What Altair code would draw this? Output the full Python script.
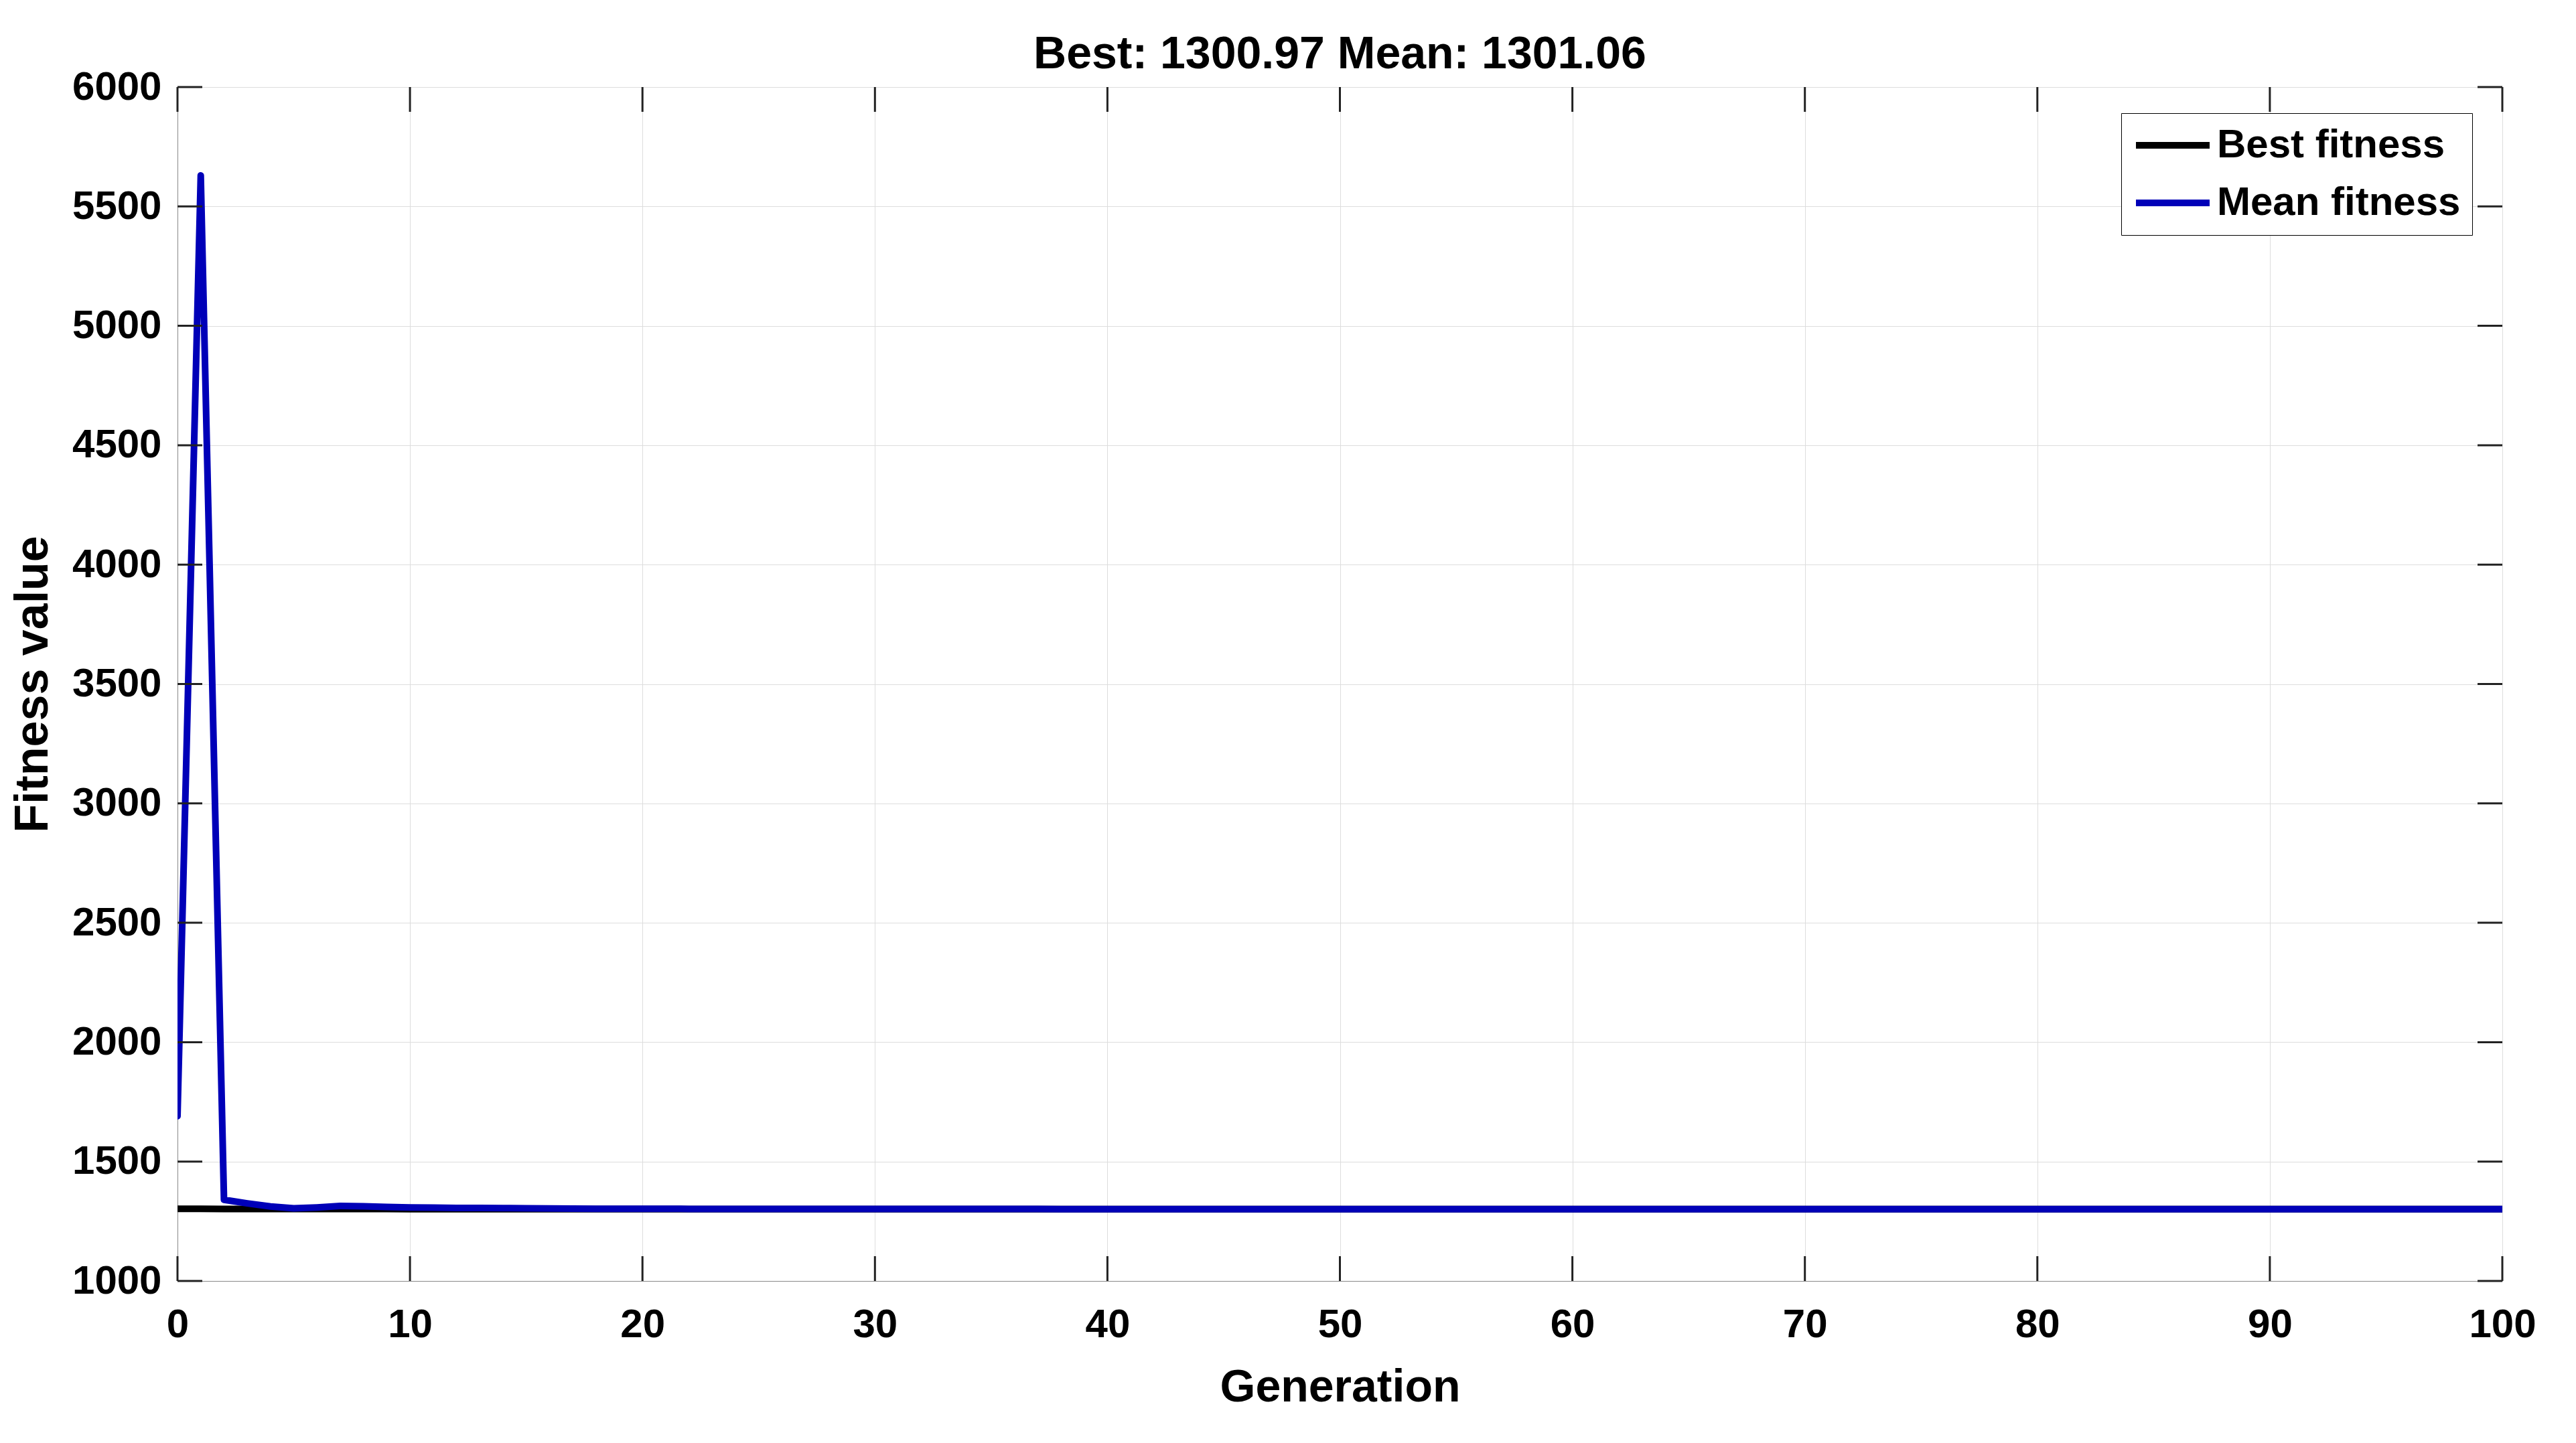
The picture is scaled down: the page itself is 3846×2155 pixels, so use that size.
import altair as alt
import pandas as pd

generations = list(range(0, 101))

best_fitness = [
    1302.40, 1301.90, 1301.60, 1301.40, 1301.30, 1301.25, 1301.20, 1301.18, 1301.15, 1301.12,
    1301.10, 1301.08, 1301.06, 1301.05, 1301.04, 1301.03, 1301.02, 1301.01, 1301.00, 1301.00,
    1300.99, 1300.99, 1300.99, 1300.98, 1300.98, 1300.98, 1300.98, 1300.98, 1300.98, 1300.98,
    1300.98, 1300.97, 1300.97, 1300.97, 1300.97, 1300.97, 1300.97, 1300.97, 1300.97, 1300.97,
    1300.97, 1300.97, 1300.97, 1300.97, 1300.97, 1300.97, 1300.97, 1300.97, 1300.97, 1300.97,
    1300.97, 1300.97, 1300.97, 1300.97, 1300.97, 1300.97, 1300.97, 1300.97, 1300.97, 1300.97,
    1300.97, 1300.97, 1300.97, 1300.97, 1300.97, 1300.97, 1300.97, 1300.97, 1300.97, 1300.97,
    1300.97, 1300.97, 1300.97, 1300.97, 1300.97, 1300.97, 1300.97, 1300.97, 1300.97, 1300.97,
    1300.97, 1300.97, 1300.97, 1300.97, 1300.97, 1300.97, 1300.97, 1300.97, 1300.97, 1300.97,
    1300.97, 1300.97, 1300.97, 1300.97, 1300.97, 1300.97, 1300.97, 1300.97, 1300.97, 1300.97,
    1300.97,
]

mean_fitness = [
    1690.0, 5630.0, 1340.0, 1325.0, 1312.0, 1304.0, 1308.0, 1314.0, 1313.0, 1310.0,
    1308.0, 1307.0, 1306.0, 1305.5, 1305.0, 1304.0, 1303.5, 1303.0, 1302.5, 1302.2,
    1302.0, 1301.9, 1301.8, 1301.7, 1301.6, 1301.5, 1301.45, 1301.4, 1301.35, 1301.3,
    1301.28, 1301.25, 1301.22, 1301.2, 1301.18, 1301.16, 1301.14, 1301.12, 1301.1, 1301.09,
    1301.08, 1301.08, 1301.07, 1301.07, 1301.07, 1301.06, 1301.06, 1301.06, 1301.06, 1301.06,
    1301.06, 1301.06, 1301.06, 1301.06, 1301.06, 1301.06, 1301.06, 1301.06, 1301.06, 1301.06,
    1301.06, 1301.06, 1301.06, 1301.06, 1301.06, 1301.06, 1301.06, 1301.06, 1301.06, 1301.06,
    1301.06, 1301.06, 1301.06, 1301.06, 1301.06, 1301.06, 1301.06, 1301.06, 1301.06, 1301.06,
    1301.06, 1301.06, 1301.06, 1301.06, 1301.06, 1301.06, 1301.06, 1301.06, 1301.06, 1301.06,
    1301.06, 1301.06, 1301.06, 1301.06, 1301.06, 1301.06, 1301.06, 1301.06, 1301.06, 1301.06,
    1301.06,
]

series_names = ["Best fitness", "Mean fitness"]
series_colors = ["#000000", "#0000b8"]
x_ticks = list(range(0, 101, 10))
y_ticks = list(range(1000, 6001, 500))
title_text = "Best: 1300.97 Mean: 1301.06"

rows = []
for g, b, m in zip(generations, best_fitness, mean_fitness):
    rows.append({"Generation": g, "value": b, "series": series_names[0]})
    rows.append({"Generation": g, "value": m, "series": series_names[1]})
df = pd.DataFrame(rows)

xt_df = pd.DataFrame({"t": x_ticks})
yt_df = pd.DataFrame({"t": y_ticks})

FONT = "Liberation Sans"
W, H = 3471, 1783
TICK = 37

x_scale = alt.Scale(domain=[0, 100], nice=False, zero=False)
y_scale = alt.Scale(domain=[1000, 6000], nice=False, zero=False)

lines = (
    alt.Chart(df)
    .mark_line(strokeWidth=10, clip=True, strokeJoin="round", strokeCap="round")
    .encode(
        x=alt.X(
            "Generation:Q",
            scale=x_scale,
            axis=alt.Axis(
                values=x_ticks,
                title="Generation",
                labelFontSize=60,
                titleFontSize=68,
                labelFontWeight="bold",
                labelPadding=36,
                titlePadding=30,
                tickSize=0,
                labelFlush=False,
                format="d",
            ),
        ),
        y=alt.Y(
            "value:Q",
            scale=y_scale,
            axis=alt.Axis(
                values=y_ticks,
                title="Fitness value",
                labelFontSize=60,
                titleFontSize=70,
                labelFontWeight="bold",
                labelPadding=24,
                titlePadding=22,
                tickSize=0,
                labelFlush=False,
                format="d",
            ),
        ),
        color=alt.Color(
            "series:N",
            scale=alt.Scale(domain=series_names, range=series_colors),
            legend=alt.Legend(
                title=None,
                orient="none",
                legendX=2902,
                legendY=39,
                symbolType="stroke",
                symbolSize=12100,
                symbolStrokeWidth=10,
                labelFontSize=60,
                labelFont=FONT,
                labelFontWeight="bold",
                labelColor="#000000",
                clipHeight=62,
                rowPadding=24,
                padding=17,
                labelOffset=6,
                strokeColor="#000000",
                fillColor="#ffffff",
                labelLimit=1000,
            ),
        ),
        order=alt.Order("Generation:Q"),
    )
)

tick_color = "#222222"
x_ticks_bottom = alt.Chart(xt_df).mark_rule(color=tick_color, strokeWidth=3).encode(
    x=alt.X("t:Q", scale=x_scale), y=alt.value(H), y2=alt.value(H - TICK)
)
x_ticks_top = alt.Chart(xt_df).mark_rule(color=tick_color, strokeWidth=3).encode(
    x=alt.X("t:Q", scale=x_scale), y=alt.value(0), y2=alt.value(TICK)
)
y_ticks_left = alt.Chart(yt_df).mark_rule(color=tick_color, strokeWidth=3).encode(
    y=alt.Y("t:Q", scale=y_scale), x=alt.value(0), x2=alt.value(TICK)
)
y_ticks_right = alt.Chart(yt_df).mark_rule(color=tick_color, strokeWidth=3).encode(
    y=alt.Y("t:Q", scale=y_scale), x=alt.value(W), x2=alt.value(W - TICK)
)

chart = (
    alt.layer(lines, x_ticks_bottom, x_ticks_top, y_ticks_left, y_ticks_right)
    .properties(
        width=W,
        height=H,
        title=alt.TitleParams(
            text=title_text,
            fontSize=68,
            font=FONT,
            fontWeight="bold",
            color="#000000",
            frame="group",
            anchor="middle",
            offset=-16,
        ),
        autosize=alt.AutoSizeParams(type="none"),
        padding={"left": 257, "top": 122, "right": 90, "bottom": 200},
    )
    .configure_view(stroke="#000000", strokeWidth=4)
    .configure_axis(
        labelFont=FONT,
        titleFont=FONT,
        labelFontWeight="bold",
        titleFontWeight="bold",
        labelColor="#000000",
        titleColor="#000000",
        domainColor="#000000",
        domainWidth=4,
        gridColor="#bdbdbd",
        gridWidth=3,
        grid=True,
    )
    .configure(background="#ffffff")
)

chart.save("out.html", embed_options={"renderer": "svg", "actions": False})
